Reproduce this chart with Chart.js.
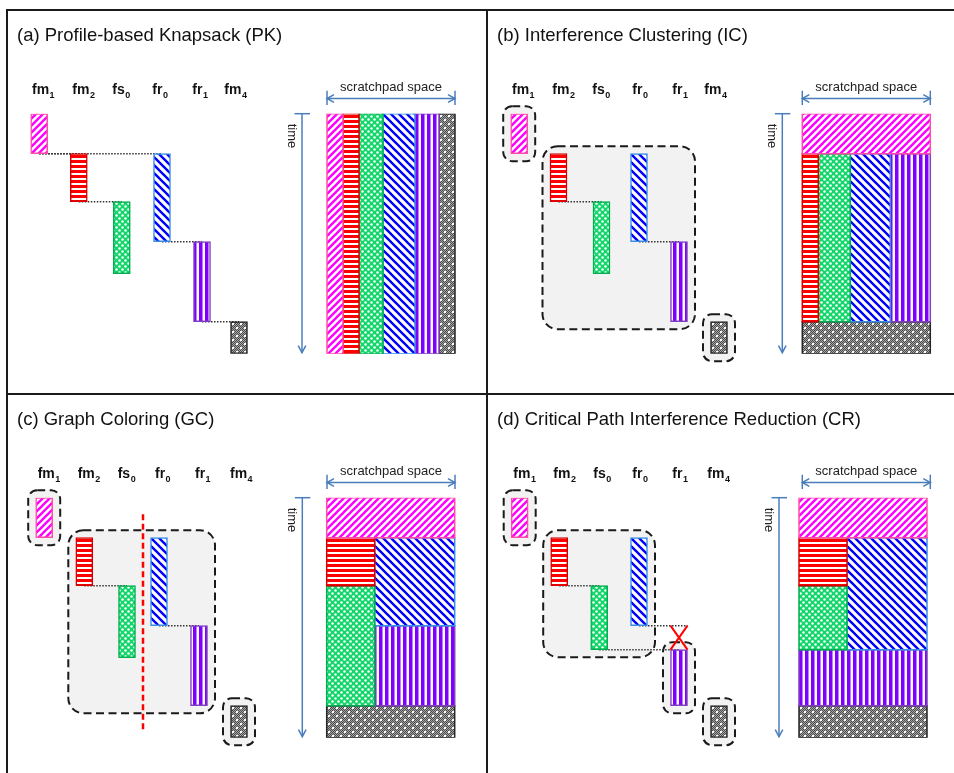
<!DOCTYPE html>
<html>
<head>
<meta charset="utf-8">
<title>Scratchpad allocation strategies</title>
<script src="https://cdn.jsdelivr.net/npm/chart.js@4.4.1/dist/chart.umd.min.js"></script>
<style>
  html, body { margin: 0; padding: 0; background: #fff; }
  body { width: 954px; height: 773px; position: relative; overflow: hidden; }
  canvas { position: absolute; }
  .rule { position: absolute; background: #1a1a1a; z-index: 2; }
</style>
</head>
<body>
<div class="rule" style="left:6px;top:9px;width:948px;height:2px"></div>
<div class="rule" style="left:6px;top:9px;width:2px;height:764px"></div>
<div class="rule" style="left:486px;top:9px;width:2px;height:764px"></div>
<div class="rule" style="left:6px;top:393px;width:948px;height:2px"></div>

<canvas id="pk"></canvas>
<canvas id="ic"></canvas>
<canvas id="gc"></canvas>
<canvas id="cr"></canvas>

<script>
// ---- data -------------------------------------------------------------
const TASKS     = ['fm1', 'fm2', 'fs0', 'fr0', 'fr1', 'fm4'];
const TASK_NAME = ['fm', 'fm', 'fs', 'fr', 'fr', 'fm'];
const TASK_SUB  = ['1', '2', '0', '0', '1', '4'];

const TIME_SPAN  = 30;   // time units shown on the time axis
const SPACE_SIZE = 16;   // scratchpad capacity in space units

// execution interval [start, end] of each task, in TASKS order
const SCHED_PK = [[0, 5], [5, 11], [11, 20], [5, 16], [16, 26], [26, 30]];
const SCHED_IC = [[0, 5], [5, 11], [11, 20], [5, 16], [16, 26], [26, 30]];
const SCHED_GC = [[0, 5], [5, 11], [11, 20], [5, 16], [16, 26], [26, 30]];
const SCHED_CR = [[0, 5], [5, 11], [11, 19], [5, 16], [19, 26], [26, 30]];

// scratchpad region of each task: [spaceStart, spaceEnd, timeStart, timeEnd]
const SPACE_PK = [[0, 2, 0, 30], [2, 4, 0, 30], [4, 7, 0, 30], [7, 11, 0, 30], [11, 14, 0, 30], [14, 16, 0, 30]];
const SPACE_IC = [[0, 16, 0, 5], [0, 2, 5, 26], [2, 6, 5, 26], [6, 11, 5, 26], [11, 16, 5, 26], [0, 16, 26, 30]];
const SPACE_GC = [[0, 16, 0, 5], [0, 6, 5, 11], [0, 6, 11, 26], [6, 16, 5, 16], [6, 16, 16, 26], [0, 16, 26, 30]];
const SPACE_CR = [[0, 16, 0, 5], [0, 6, 5, 11], [0, 6, 11, 19], [6, 16, 5, 19], [0, 16, 19, 26], [0, 16, 26, 30]];

// dependencies [producer, consumer]
const DEPS_PK = [['fm1', 'fm2'], ['fm1', 'fr0'], ['fm2', 'fs0'], ['fr0', 'fr1'], ['fr1', 'fm4']];
const DEPS_IC = [['fm2', 'fs0'], ['fr0', 'fr1']];
const DEPS_GC = [['fm2', 'fs0'], ['fr0', 'fr1']];
const DEPS_CR = [['fm2', 'fs0'], ['fs0', 'fr1']];
const CUT_CR  = [['fr0', 'fr1']];

// interference clusters
const CLUSTERS_IC = [['fm1'], ['fm2', 'fs0', 'fr0', 'fr1'], ['fm4']];
const CLUSTERS_GC = [['fm1'], ['fm2', 'fs0', 'fr0', 'fr1'], ['fm4']];
const CLUSTERS_CR = [['fm1'], ['fm2', 'fs0', 'fr0'], ['fr1'], ['fm4']];
const SPLIT_GC = ['fs0', 'fr0'];

// ---- styles -----------------------------------------------------------
function tile(w, h, paint) {
  const c = document.createElement('canvas');
  c.width = w; c.height = h;
  const g = c.getContext('2d');
  g.fillStyle = '#fff';
  g.fillRect(0, 0, w, h);
  paint(g, w, h);
  return g.createPattern(c, 'repeat');
}
function hatch(color, size, width, forward) {
  return tile(size, size, (g, s) => {
    g.strokeStyle = color; g.lineWidth = width; g.lineCap = 'square';
    for (let k = -1; k <= 1; k++) {
      g.beginPath();
      if (forward) { g.moveTo(k * s, s); g.lineTo(k * s + s, 0); }
      else { g.moveTo(k * s, 0); g.lineTo(k * s + s, s); }
      g.stroke();
    }
  });
}
const FILL = {
  fm1: hatch('#ff00ff', 7, 2.4, true),
  fm2: tile(5, 5, g => { g.fillStyle = '#ff0000'; g.fillRect(0, 0, 5, 3); }),
  fs0: tile(6, 6, g => {
    g.fillStyle = '#12d66a'; g.fillRect(0, 0, 6, 6);
    g.fillStyle = '#ffffff';
    [[1.5, 1.5], [4.5, 4.5]].forEach(([x, y]) => { g.beginPath(); g.arc(x, y, 1.25, 0, Math.PI * 2); g.fill(); });
  }),
  fr0: hatch('#0000ff', 8, 2.4, false),
  fr1: tile(6, 6, g => { g.fillStyle = '#7f00ff'; g.fillRect(0, 0, 3.5, 6); }),
  fm4: tile(8, 8, g => {
    for (let y = 0; y < 8; y++) for (let x = 0; x < 8; x++) {
      g.fillStyle = (x + y) % 2 ? '#4a4a4a' : '#a6a6a6';
      g.fillRect(x, y, 1, 1);
    }
    g.fillStyle = '#ffffff';
    g.fillRect(1, 1, 2, 2);
    g.fillRect(5, 5, 2, 2);
  })
};
const EDGE = { fm1: '#ff4da6', fm2: '#d40000', fs0: '#00b050', fr0: '#3a8ee6', fr1: '#7f3fbf', fm4: '#262626' };

const FONT = '"Liberation Sans", Arial, Helvetica, sans-serif';
const ARROW_BLUE = '#4a7ebb';
const BAR_W = 17;
const PX_PER_SPACE = 8;
const CLUSTER_PAD = 7.5;
const T0_Y = 103.7;          // pixel row of time 0 inside a panel
const T_END_Y = 343.7;       // pixel row of the last time unit

// ---- panels -----------------------------------------------------------
const PANELS = [
  { id: 'pk', left: 7, top: 10, w: 480, h: 384, title: '(a) Profile-based Knapsack (PK)',
    sched: SCHED_PK, space: SPACE_PK, deps: DEPS_PK, cut: [], clusters: [], split: null,
    colX: [32.2, 71.8, 114.8, 155, 195, 232], labelX: [25, 65.3, 105.3, 145.3, 185.3, 217.3],
    timeX: 295, spaceX: 320, arrowX: 320 },
  { id: 'ic', left: 487, top: 10, w: 467, h: 384, title: '(b) Interference Clustering (IC)',
    sched: SCHED_IC, space: SPACE_IC, deps: DEPS_IC, cut: [], clusters: CLUSTERS_IC, split: null,
    colX: [32.2, 71.5, 114.5, 152, 192, 232], labelX: [25, 65.3, 105.3, 145.3, 185.3, 217.3],
    timeX: 295.3, spaceX: 315.3, arrowX: 315.3 },
  { id: 'gc', left: 7, top: 394, w: 480, h: 379, title: '(c) Graph Coloring (GC)',
    sched: SCHED_GC, space: SPACE_GC, deps: DEPS_GC, cut: [], clusters: CLUSTERS_GC, split: SPLIT_GC,
    colX: [37.2, 77.3, 120, 152, 192, 232], labelX: [30.7, 70.7, 110.7, 148, 188, 223],
    timeX: 295.3, spaceX: 319.7, arrowX: 320 },
  { id: 'cr', left: 487, top: 394, w: 467, h: 379, title: '(d) Critical Path Interference Reduction (CR)',
    sched: SCHED_CR, space: SPACE_CR, deps: DEPS_CR, cut: CUT_CR, clusters: CLUSTERS_CR, split: null,
    colX: [32.7, 72.2, 112.2, 152, 192, 232], labelX: [26.3, 66.3, 106.3, 145.3, 185.3, 220.3],
    timeX: 292, spaceX: 312, arrowX: 315.3 }
];

// ---- drawing helpers --------------------------------------------------
function barBoxes(chart) {
  const out = {};
  chart.getDatasetMeta(0).data.forEach((el, i) => {
    const p = el.getProps(['x', 'y', 'base', 'width'], true);
    out[TASKS[i]] = {
      cx: p.x, x0: p.x - p.width / 2, x1: p.x + p.width / 2,
      y0: Math.min(p.y, p.base), y1: Math.max(p.y, p.base)
    };
  });
  return out;
}
function bounds(list) {
  return {
    x0: Math.min(...list.map(b => b.x0)), x1: Math.max(...list.map(b => b.x1)),
    y0: Math.min(...list.map(b => b.y0)), y1: Math.max(...list.map(b => b.y1))
  };
}
function roundRect(ctx, x, y, w, h, r) {
  ctx.beginPath();
  ctx.moveTo(x + r, y);
  ctx.arcTo(x + w, y, x + w, y + h, r);
  ctx.arcTo(x + w, y + h, x, y + h, r);
  ctx.arcTo(x, y + h, x, y, r);
  ctx.arcTo(x, y, x + w, y, r);
  ctx.closePath();
}
function line(ctx, x0, y0, x1, y1) {
  ctx.beginPath(); ctx.moveTo(x0, y0); ctx.lineTo(x1, y1); ctx.stroke();
}
function arrowHead(ctx, x, y, dx, dy) {
  // open head at (x,y) pointing along (dx,dy)
  const len = 7, half = 3.8;
  const px = -dy, py = dx;
  ctx.beginPath();
  ctx.moveTo(x - dx * len + px * half, y - dy * len + py * half);
  ctx.lineTo(x, y);
  ctx.lineTo(x - dx * len - px * half, y - dy * len - py * half);
  ctx.stroke();
}

function makeArt(panel) {
  return {
    id: 'panelArt',
    beforeDatasetsDraw(chart) {
      const ctx = chart.ctx;
      const boxes = barBoxes(chart);
      ctx.save();
      // interference clusters
      panel.clusters.forEach(group => {
        const b = bounds(group.map(t => boxes[t]));
        const x = b.x0 - CLUSTER_PAD, y = b.y0 - CLUSTER_PAD;
        const w = b.x1 - b.x0 + 2 * CLUSTER_PAD, h = b.y1 - b.y0 + 2 * CLUSTER_PAD;
        roundRect(ctx, x, y, w, h, group.length > 1 ? 15 : 9);
        ctx.fillStyle = '#f2f2f2';
        ctx.fill();
        ctx.setLineDash([8, 4.5]);
        ctx.lineWidth = 2;
        ctx.strokeStyle = '#1a1a1a';
        ctx.stroke();
      });
      // colouring split
      if (panel.split) {
        const [a, b] = panel.split;
        const group = panel.clusters.find(g => g.includes(a) && g.includes(b));
        const gb = bounds(group.map(t => boxes[t]));
        const x = (boxes[a].x1 + boxes[b].x0) / 2;
        ctx.setLineDash([6, 3.5]);
        ctx.lineWidth = 2.5;
        ctx.strokeStyle = '#ff0000';
        line(ctx, x, gb.y0 - CLUSTER_PAD - 16, x, gb.y1 + CLUSTER_PAD + 16);
      }
      // dependency links
      ctx.setLineDash([1.5, 1.5]);
      ctx.lineWidth = 1.5;
      ctx.strokeStyle = '#333';
      panel.deps.forEach(([a, b]) => line(ctx, boxes[a].cx, boxes[a].y1, boxes[b].cx, boxes[a].y1));
      panel.cut.forEach(([a, b]) => line(ctx, boxes[a].cx, boxes[a].y1, boxes[b].x1, boxes[a].y1));
      ctx.restore();
    },
    afterDatasetsDraw(chart) {
      const ctx = chart.ctx;
      const boxes = barBoxes(chart);
      const y = chart.scales.y, xs = chart.scales.xs;
      ctx.save();
      // removed dependency
      ctx.strokeStyle = '#ff0000';
      ctx.lineWidth = 2;
      panel.cut.forEach(([a, b]) => {
        const top = boxes[a].y1, bot = boxes[b].y0;
        line(ctx, boxes[b].x0, top, boxes[b].x1, bot);
        line(ctx, boxes[b].x1, top, boxes[b].x0, bot);
      });

      // panel title
      ctx.fillStyle = '#111';
      ctx.font = '18.5px ' + FONT;
      ctx.textAlign = 'left';
      ctx.textBaseline = 'alphabetic';
      ctx.fillText(panel.title, 10, 31);

      // task labels
      TASKS.forEach((t, i) => {
        ctx.font = 'bold 14px ' + FONT;
        ctx.fillText(TASK_NAME[i], panel.labelX[i], 84);
        const w = ctx.measureText(TASK_NAME[i]).width;
        ctx.font = 'bold 9px ' + FONT;
        ctx.fillText(TASK_SUB[i], panel.labelX[i] + w + 0.5, 87.5);
      });

      // time axis
      const tTop = y.getPixelForValue(0), tBot = y.getPixelForValue(TIME_SPAN) - 1;
      ctx.strokeStyle = ARROW_BLUE;
      ctx.lineWidth = 1.5;
      line(ctx, panel.timeX, tTop, panel.timeX, tBot);
      line(ctx, panel.timeX - 7.5, tTop, panel.timeX + 8, tTop);
      arrowHead(ctx, panel.timeX, tBot, 0, 1);
      ctx.save();
      ctx.translate(panel.timeX - 10.5, 126);
      ctx.rotate(Math.PI / 2);
      ctx.fillStyle = '#222';
      ctx.font = '13px ' + FONT;
      ctx.textAlign = 'center';
      ctx.textBaseline = 'middle';
      ctx.fillText('time', 0, 0);
      ctx.restore();

      // scratchpad extent
      const spanW = xs.getPixelForValue(SPACE_SIZE) - xs.getPixelForValue(0);
      const ax0 = panel.arrowX, ax1 = panel.arrowX + spanW, ay = 88.5;
      line(ctx, ax0, 80.7, ax0, 95);
      line(ctx, ax1, 80.7, ax1, 95);
      line(ctx, ax0, ay, ax1, ay);
      arrowHead(ctx, ax0, ay, -1, 0);
      arrowHead(ctx, ax1, ay, 1, 0);
      ctx.fillStyle = '#222';
      ctx.font = '13px ' + FONT;
      ctx.textAlign = 'center';
      ctx.textBaseline = 'alphabetic';
      ctx.fillText('scratchpad space', (ax0 + ax1) / 2, 80.5);
      ctx.restore();
    }
  };
}

function buildPanel(panel) {
  const canvas = document.getElementById(panel.id);
  canvas.width = panel.w; canvas.height = panel.h;
  canvas.style.left = panel.left + 'px';
  canvas.style.top = panel.top + 'px';
  canvas.style.width = panel.w + 'px';
  canvas.style.height = panel.h + 'px';

  const schedule = {
    type: 'bar',
    xAxisID: 'x', yAxisID: 'y',
    data: TASKS.map((t, i) => ({ x: panel.colX[i], y: panel.sched[i] })),
    backgroundColor: TASKS.map(t => FILL[t]),
    borderColor: TASKS.map(t => EDGE[t]),
    borderWidth: 1.5,
    borderSkipped: false,
    barThickness: BAR_W,
    grouped: false
  };
  const regions = panel.space.map(([s0, s1, t0, t1], i) => ({
    type: 'line',
    xAxisID: 'xs', yAxisID: 'y',
    data: [{ x: s0, y: t0 }, { x: s1, y: t0 }, { x: s1, y: t1 }, { x: s0, y: t1 }, { x: s0, y: t0 }],
    fill: 'shape',
    backgroundColor: FILL[TASKS[i]],
    borderColor: EDGE[TASKS[i]],
    borderWidth: 1.5,
    borderJoinStyle: 'miter',
    borderCapStyle: 'square',
    pointRadius: 0,
    pointHoverRadius: 0,
    tension: 0
  }));

  new Chart(canvas, {
    type: 'bar',
    data: { datasets: [schedule, ...regions] },
    options: {
      responsive: false,
      animation: false,
      events: [],
      devicePixelRatio: 1,
      layout: { padding: { top: T0_Y, bottom: panel.h - T_END_Y, left: 0, right: 0 } },
      scales: {
        x: { type: 'linear', min: 0, max: panel.w, offset: false, display: false },
        xs: { type: 'linear', axis: 'x', offset: false, display: false,
              min: -panel.spaceX / PX_PER_SPACE, max: (panel.w - panel.spaceX) / PX_PER_SPACE },
        y: { type: 'linear', min: 0, max: TIME_SPAN, reverse: true, display: false }
      },
      plugins: { legend: { display: false }, tooltip: { enabled: false }, title: { display: false } }
    },
    plugins: [makeArt(panel)]
  });
}

PANELS.forEach(buildPanel);
</script>
</body>
</html>
